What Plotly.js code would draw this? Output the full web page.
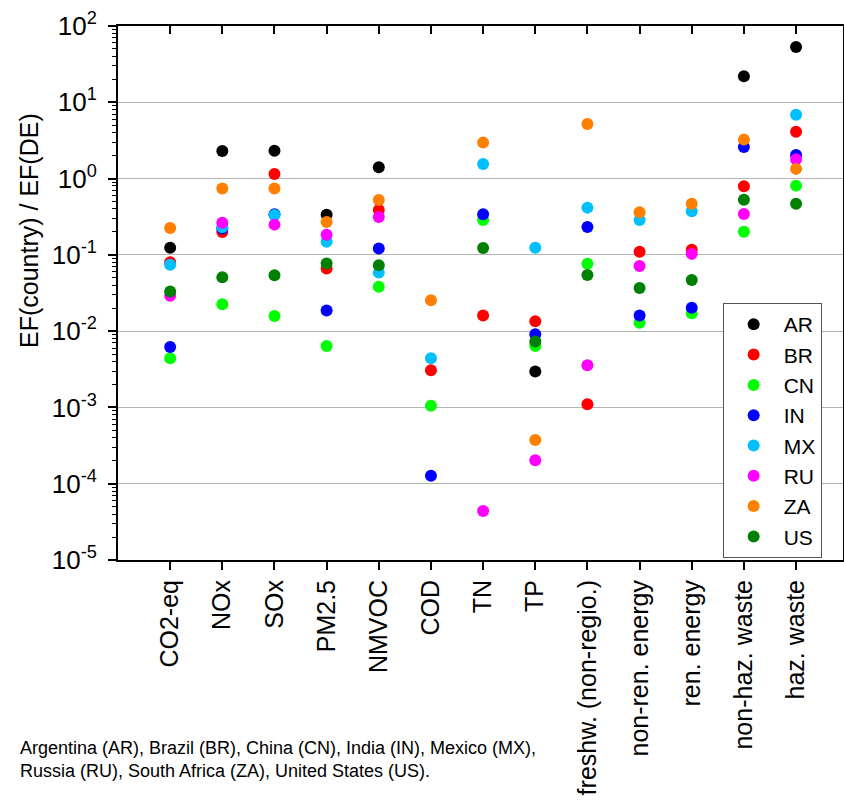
<!DOCTYPE html>
<html>
<head>
<meta charset="utf-8">
<script src="https://cdn.plot.ly/plotly-3.0.1.min.js"></script>
<style>
html,body{margin:0;padding:0;background:#fff;overflow:hidden;}
#chart{width:844px;height:809px;}
</style>
</head>
<body>
<div id="chart"></div>
<script>
// ---- data ----
const categories = ['CO2-eq','NOx','SOx','PM2.5','NMVOC','COD','TN','TP',
  'freshw. (non-regio.)','non-ren. energy','ren. energy','non-haz. waste','haz. waste'];

const countries = ['AR','BR','CN','IN','MX','RU','ZA','US'];
const colors = ['#000000','#ff0000','#00ff00','#0000ff','#00bfff','#ff00ff','#ff8000','#008000'];

const AR = [0.124, 2.30, 2.32, 0.336, 1.41, null, null, 0.00295, null, null, null, 21.9, 53.1];
const BR = [0.080, 0.200, 1.15, 0.066, 0.388, 0.00307, 0.0160, 0.0135, 0.0011, 0.110, 0.117, 0.792, 4.12];
const CN = [0.0044, 0.0225, 0.0158, 0.0064, 0.0383, 0.00105, 0.286, 0.0064, 0.0767, 0.0129, 0.0171, 0.201, 0.808];
const IN = [0.0062, 0.222, 0.34, 0.0187, 0.121, 0.000127, 0.34, 0.0091, 0.232, 0.016, 0.0203, 2.59, 2.04];
const MX = [0.074, 0.230, 0.333, 0.149, 0.0585, 0.00442, 1.55, 0.124, 0.416, 0.286, 0.372, null, 6.88];
const RU = [0.029, 0.264, 0.249, 0.184, 0.314, null, 0.000044, 0.000203, 0.00357, 0.0716, 0.103, 0.344, 1.79];
const ZA = [0.225, 0.74, 0.74, 0.27, 0.525, 0.0254, 2.96, 0.000375, 5.2, 0.361, 0.469, 3.24, 1.34];
const US = [0.033, 0.051, 0.054, 0.0768, 0.073, null, 0.123, 0.0073, 0.0546, 0.0368, 0.0469, 0.529, 0.469];

const yTickVals = [1e-5, 1e-4, 1e-3, 1e-2, 1e-1, 1e0, 1e1, 1e2];
const yTickText = ['10<sup>-5</sup>','10<sup>-4</sup>','10<sup>-3</sup>','10<sup>-2</sup>',
  '10<sup>-1</sup>','10<sup>0</sup>','10<sup>1</sup>','10<sup>2</sup>'];

const yTitle = 'EF(country) / EF(DE)';
const footnote = 'Argentina (AR), Brazil (BR), China (CN), India (IN), Mexico (MX),<br>Russia (RU), South Africa (ZA), United States (US).';

// ---- build ----
const series = [AR, BR, CN, IN, MX, RU, ZA, US];
const xPos = categories.map((c, i) => i + 1);
const FONT = 'Arial, "Liberation Sans", sans-serif';

const traces = series.map((vals, k) => ({
  type: 'scatter',
  mode: 'markers',
  name: countries[k],
  x: xPos,
  y: vals,
  marker: {color: colors[k], size: 12, line: {width: 0}},
  hoverinfo: 'name+y'
}));

// dummy trace to host the top axis
traces.push({type: 'scatter', mode: 'markers', x: [null], y: [null], xaxis: 'x2',
  showlegend: false, hoverinfo: 'skip'});

const layout = {
  width: 844, height: 809,
  margin: {l: 118, r: 1, t: 26, b: 249},
  paper_bgcolor: '#ffffff', plot_bgcolor: '#ffffff',
  font: {family: FONT, color: '#000000'},
  showlegend: true,
  xaxis: {
    range: [0, 13.9],
    tickmode: 'array', tickvals: xPos, ticktext: categories,
    tickangle: -90, tickfont: {size: 25, family: FONT},
    ticks: 'outside', ticklen: 8, tickwidth: 2, tickcolor: '#000',
    showline: true, linewidth: 2, linecolor: '#000',
    showgrid: false, zeroline: false
  },
  xaxis2: {
    overlaying: 'x', side: 'top', anchor: 'y',
    range: [0, 13.9],
    tickmode: 'array', tickvals: xPos,
    showticklabels: false,
    ticks: 'inside', ticklen: 8, tickwidth: 2, tickcolor: '#000',
    showline: true, linewidth: 2, linecolor: '#000',
    showgrid: false, zeroline: false
  },
  yaxis: {
    type: 'log', range: [-5, 2],
    tickmode: 'array', tickvals: yTickVals, ticktext: yTickText,
    tickfont: {size: 26, family: FONT},
    ticks: 'outside', ticklen: 8, tickwidth: 2, tickcolor: '#000',
    ticklabelstandoff: 6,
    minor: {dtick: 'D1', ticks: 'outside', ticklen: 4, tickwidth: 1, tickcolor: '#000', showgrid: false},
    showline: true, linewidth: 2, linecolor: '#000', mirror: true,
    showgrid: true, gridcolor: '#b4b4b4', gridwidth: 1,
    zeroline: false
  },
  legend: {
    x: 0.834, y: 0.481, xanchor: 'left', yanchor: 'top',
    bgcolor: '#ffffff', bordercolor: '#555555', borderwidth: 1,
    font: {size: 21, family: FONT},
    itemwidth: 50
  },
  annotations: [
    {text: yTitle, xref: 'paper', yref: 'paper',
     x: (29 - 118) / 725, y: (560 - 231) / 534,
     xanchor: 'center', yanchor: 'middle', textangle: -90,
     showarrow: false, font: {size: 25, family: FONT}},
    {text: footnote, xref: 'paper', yref: 'paper',
     x: (18 - 118) / 725, y: (560 - 736) / 534,
     xanchor: 'left', yanchor: 'top', align: 'left',
     showarrow: false, font: {size: 18, family: FONT}}
  ]
};

Plotly.newPlot('chart', traces, layout, {displayModeBar: false, staticPlot: true});
</script>
</body>
</html>
